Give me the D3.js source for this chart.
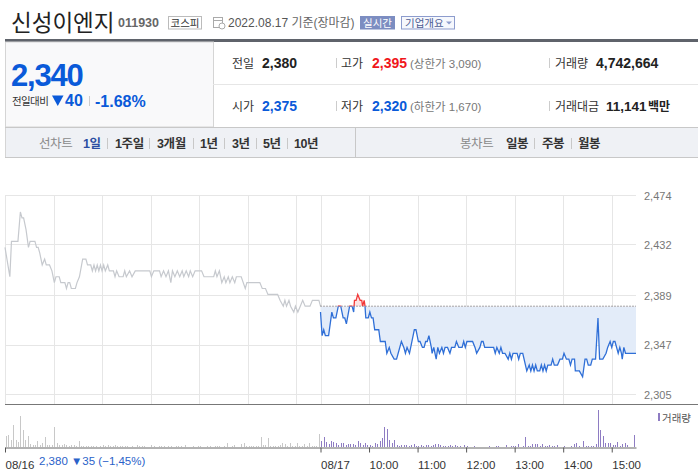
<!DOCTYPE html>
<html><head><meta charset="utf-8">
<script src="https://cdn.jsdelivr.net/npm/d3@7/dist/d3.min.js"></script>
<style>
html,body{margin:0;padding:0;background:#fff;}
svg{display:block;font-family:'Liberation Sans','Noto Sans CJK KR',sans-serif;}
</style></head><body>
<svg id="c" width="698" height="473"></svg>
<script>
// ---------------- DATA ----------------
const prevClose = 2380;
// 08/16 (minutes after 09:00, price)
const d16Time = [0,6,8,16,19,21,23,26,29,31,37,39,41,43,46,49,51,55,58,61,63,67,69,74,76,78,80,82,87,89,92,96,100,102,106,108,110,112,114,116,118,120,122,124,127,129,134,136,138,141,146,148,150,154,157,161,179,181,184,191,193,196,199,202,205,207,210,213,216,219,221,224,227,229,232,235,243,246,258,260,262,265,268,271,273,276,278,281,284,286,292,297,299,315,318,322,325,337,340,344,346,348,351,353,357,359,362,365,368,371,377,380,388,390];
const d16Price = [2430,2405,2435,2435,2460,2455,2455,2445,2430,2435,2435,2430,2430,2425,2415,2420,2415,2415,2410,2400,2405,2405,2400,2400,2395,2400,2400,2395,2395,2400,2405,2420,2420,2415,2415,2410,2415,2410,2415,2410,2415,2410,2415,2410,2415,2410,2410,2405,2410,2405,2405,2410,2405,2410,2405,2410,2410,2405,2410,2410,2405,2410,2405,2410,2400,2410,2405,2410,2405,2410,2405,2410,2405,2410,2405,2410,2410,2405,2405,2410,2405,2410,2400,2405,2400,2405,2400,2405,2400,2405,2405,2395,2400,2400,2395,2395,2390,2390,2385,2380,2385,2380,2385,2380,2375,2380,2375,2380,2385,2380,2380,2385,2385,2380];
// 08/17
const d17Time = [0,2,4,6,10,14,16,19,22,25,28,30,32,36,39,41,42,44,46,49,51,52,54,55,56,59,61,63,65,67,72,74,80,82,85,87,91,94,100,103,105,107,110,116,118,121,123,126,128,130,132,134,137,138,140,143,145,147,150,152,154,157,160,162,166,168,171,175,177,179,181,188,191,193,197,199,201,203,214,216,218,221,223,225,228,232,234,236,238,243,245,247,250,255,258,260,262,264,266,268,271,273,275,277,279,281,285,287,289,293,296,299,301,304,307,309,311,314,315,320,324,327,329,331,334,336,340,343,345,349,353,355,358,360,362,364,366,368,370,372,373,375,377,390];
const d17Price = [2375,2355,2360,2355,2355,2375,2370,2370,2380,2380,2370,2370,2365,2380,2380,2375,2385,2385,2390,2385,2385,2380,2385,2380,2370,2370,2375,2370,2370,2360,2360,2350,2350,2340,2345,2340,2335,2335,2350,2345,2340,2345,2340,2360,2360,2350,2350,2345,2345,2350,2350,2355,2345,2340,2345,2335,2345,2340,2345,2340,2345,2345,2340,2345,2345,2350,2345,2345,2350,2345,2350,2350,2345,2340,2345,2350,2350,2345,2345,2340,2345,2340,2345,2340,2340,2335,2340,2335,2340,2340,2335,2340,2340,2325,2330,2325,2330,2325,2330,2325,2325,2330,2325,2330,2325,2330,2330,2335,2330,2330,2335,2335,2340,2335,2335,2330,2335,2335,2325,2325,2320,2335,2335,2330,2330,2335,2335,2370,2335,2335,2340,2345,2350,2345,2350,2350,2345,2340,2345,2340,2335,2345,2340,2340];
// volume, thousand shares per 3-minute bucket
const vol16 = [45,50,27,90,30,20,125,69,28,44,12,8,10,24,8,16,40,10,10,8,80,16,8,10,12,8,6,8,8,6,24,
  6,4,6,4,6,4,4,0,4,8,4,8,4,6,10,4,4,4,6,4,0,4,0,8,4,4,4,0,0,8,4,0,4,4,
  6,0,4,4,0,4,4,4,0,10,0,0,4,0,4,4,0,0,4,4,0,4,4,4,0,6,16,0,4,8,0,0,12,16,4,6,6,6,6,6,40,8,8,36,6,6,6,6,8,16,12,6,16,6,6,16,6,6,12,6,16,6,6,6,52];
const vol17 = [24,40,20,14,24,20,16,8,16,16,8,12,14,14,8,24,16,8,18,10,8,6,16,12,24,36,80,72,28,16,
  28,8,6,10,8,10,6,8,12,5,6,8,5,10,10,5,8,12,12,8,4,6,6,8,6,10,6,5,0,8,6,0,0,4,0,
  0,0,0,0,4,0,0,3,3,0,0,9,0,4,4,5,12,0,4,40,6,4,12,12,12,4,12,6,6,8,5,5,8,0,0,5,0,0,5,12,16,6,0,24,6,5,5,6,12,148,68,44,16,16,16,8,8,20,6,12,16,8,0,0,48];
const yTicks = [2305, 2347, 2389, 2432, 2474];
const hourMinutes = [0, 60, 120, 180, 240, 300, 360];
const dayLabels = ["08/16", "08/17"];
const timeLabels = ["10:00", "11:00", "12:00", "13:00", "14:00", "15:00"];
const prevDayNote = "2,380 ▼35 (−1,45%)";

// ---------------- DRAW ----------------
const svg = d3.select("#c");
const DAY = 390;
const x = d3.scaleLinear().domain([0, DAY * 2]).range([5, 636]);
const y = d3.scaleLinear().domain([2305, 2474]).range([394.5, 195.5]);
const yv = d3.scaleLinear().domain([0, 150]).range([447, 410]);

// ---- header ----
svg.append("text").attr("x", 11).attr("y", 30.5).attr("font-size", 22.5).attr("fill", "#222")
  .attr("font-family", "'Noto Sans CJK KR',sans-serif").text("신성이엔지");
svg.append("text").attr("x", 118).attr("y", 27).attr("font-size", 12.5).attr("font-weight", "bold").attr("fill", "#666").text("011930");
svg.append("rect").attr("x", 168.5).attr("y", 16.5).attr("width", 33).attr("height", 12.5).attr("fill", "#fff").attr("stroke", "#bbb");
svg.append("text").attr("x", 185).attr("y", 26.5).attr("font-size", 10.5).attr("text-anchor", "middle").attr("fill", "#333").text("코스피");
// calendar icon
const ic = svg.append("g").attr("fill", "none").attr("stroke", "#aaa");
ic.append("rect").attr("x", 213.5).attr("y", 17.5).attr("width", 9).attr("height", 10);
ic.append("line").attr("x1", 213.5).attr("x2", 222.5).attr("y1", 20.5).attr("y2", 20.5);
ic.append("circle").attr("cx", 222).attr("cy", 26).attr("r", 3).attr("fill", "#fff");
svg.append("text").attr("x", 228).attr("y", 26.5).attr("font-size", 12).attr("fill", "#555").text("2022.08.17")
  .append("tspan").attr("fill", "#666").text(" 기준(장마감)");
svg.append("rect").attr("x", 360).attr("y", 16).attr("width", 35).attr("height", 13.5).attr("fill", "#7c8dc1");
svg.append("text").attr("x", 377.5).attr("y", 26.5).attr("font-size", 10.5).attr("text-anchor", "middle").attr("fill", "#fff").text("실시간");
svg.append("rect").attr("x", 401.5).attr("y", 16.5).attr("width", 53).attr("height", 12.5).attr("fill", "#f6f8fd").attr("stroke", "#8d9ccd");
svg.append("text").attr("x", 405).attr("y", 26.5).attr("font-size", 10.5).attr("fill", "#4b5c93").text("기업개요");
svg.append("path").attr("d", "M446,21.5h6l-3,3z").attr("fill", "#8d9ccd");

svg.append("rect").attr("x", 5).attr("y", 39).attr("width", 693).attr("height", 3).attr("fill", "#5f636b");

// ---- info panel ----
svg.append("rect").attr("x", 5.5).attr("y", 42).attr("width", 208).attr("height", 85).attr("fill", "#f9f9fa").attr("stroke", "#d5d5d5");
svg.append("line").attr("x1", 213).attr("x2", 698).attr("y1", 84.5).attr("y2", 84.5).attr("stroke", "#e6e6e6");
const blue = "#0a5ad9", red = "#f0161b";
svg.append("text").attr("x", 11).attr("y", 86).attr("font-size", 31).attr("font-weight", "bold").attr("letter-spacing", -1.2).attr("fill", blue).text("2,340");
svg.append("text").attr("x", 12).attr("y", 104.5).attr("font-size", 10.5).attr("letter-spacing", -0.6).attr("fill", "#333")
  .attr("font-family", "'Noto Sans CJK KR',sans-serif").text("전일대비");
svg.append("path").attr("d", "M52,95.5h11.5l-5.75,10.5z").attr("fill", blue);
svg.append("text").attr("x", 65).attr("y", 106).attr("font-size", 16).attr("font-weight", "bold").attr("fill", blue).text("40");
svg.append("line").attr("x1", 89.5).attr("x2", 89.5).attr("y1", 96).attr("y2", 106).attr("stroke", "#ccc");
svg.append("text").attr("x", 95).attr("y", 106.5).attr("font-size", 16).attr("font-weight", "bold").attr("fill", blue).text("-1.68%");

function infoItem(xl, yb, label, xv, val, color, extra, xe, sub) {
  svg.append("text").attr("x", xl).attr("y", yb).attr("font-size", 12).attr("fill", "#333")
    .attr("font-family", "'Noto Sans CJK KR',sans-serif").text(label);
  svg.append("text").attr("x", xv).attr("y", yb).attr("font-size", sub ? 13.5 : 14).attr("font-weight", "bold").attr("fill", color).text(val);
  if (extra) svg.append("text").attr("x", xe).attr("y", yb).attr("font-size", sub ? 12 : 11.5).attr("fill", sub ? "#222" : "#777")
    .attr("font-weight", sub ? "bold" : "normal").text(extra);
}
infoItem(232, 67.5, "전일", 262, "2,380", "#222");
infoItem(341, 67.5, "고가", 372, "2,395", red, "(상한가 3,090)", 410);
infoItem(555, 67.5, "거래량", 596, "4,742,664", "#222");
infoItem(232, 110.5, "시가", 262, "2,375", blue);
infoItem(341, 110.5, "저가", 372, "2,320", blue, "(하한가 1,670)", 410);
infoItem(555, 110.5, "거래대금", 606, "11,141", "#222", "백만", 648, true);
[336, 549].forEach(xx => [58, 101].forEach(yy =>
  svg.append("line").attr("x1", xx + 0.5).attr("x2", xx + 0.5).attr("y1", yy).attr("y2", yy + 10).attr("stroke", "#ccc")));

// ---- tab bar ----
svg.append("rect").attr("x", 5).attr("y", 127).attr("width", 693).attr("height", 31).attr("fill", "#eff1f5");
svg.append("line").attr("x1", 5).attr("x2", 698).attr("y1", 127.5).attr("y2", 127.5).attr("stroke", "#c8c8c8");
svg.append("line").attr("x1", 5).attr("x2", 698).attr("y1", 157.5).attr("y2", 157.5).attr("stroke", "#c8c8c8");
svg.append("line").attr("x1", 355.5).attr("x2", 355.5).attr("y1", 128).attr("y2", 157).attr("stroke", "#c8c8c8");
svg.append("line").attr("x1", 5.5).attr("x2", 5.5).attr("y1", 128).attr("y2", 157).attr("stroke", "#d5d5d5");
const tabs = [["선차트",39,"#8a8a8a",false],["1일",83,"#2b4ea2",true],["1주일",115,"#333",true],["3개월",157,"#333",true],
  ["1년",200,"#333",true],["3년",232,"#333",true],["5년",263,"#333",true],["10년",294,"#333",true],
  ["봉차트",460,"#8a8a8a",false],["일봉",506,"#333",true],["주봉",542,"#333",true],["월봉",578,"#333",true]];
tabs.forEach(t => svg.append("text").attr("x", t[1]).attr("y", 148).attr("font-size", 12.5).attr("letter-spacing", -0.4)
  .attr("font-weight", t[3] ? "bold" : "normal").attr("fill", t[2]).text(t[0]));
[107, 149, 193, 224, 256, 287, 534, 571].forEach(xx =>
  svg.append("line").attr("x1", xx + 0.5).attr("x2", xx + 0.5).attr("y1", 138).attr("y2", 149).attr("stroke", "#c8c8c8"));

// ---- grid ----
const grid = svg.append("g").attr("shape-rendering", "crispEdges");
grid.selectAll(".h").data(yTicks).join("line")
  .attr("x1", x(0)).attr("x2", x(DAY * 2)).attr("y1", d => y(d)).attr("y2", d => y(d)).attr("stroke", "#e6e6e6");
const vHours = hourMinutes.concat(hourMinutes.map(m => m + DAY));
grid.selectAll(".v").data(vHours).join("line")
  .attr("x1", d => Math.round(x(d)) + 0.5).attr("x2", d => Math.round(x(d)) + 0.5)
  .attr("y1", y(2474)).attr("y2", 404).attr("stroke", "#e6e6e6");
svg.append("line").attr("x1", 5).attr("x2", 698).attr("y1", 404.5).attr("y2", 404.5).attr("stroke", "#777");

// y labels
const yAxis = svg.append("g").attr("transform", `translate(${x(DAY * 2)},0)`)
  .call(d3.axisRight(y).tickValues(yTicks).tickSize(0).tickPadding(8).tickFormat(d3.format(",")));
yAxis.select(".domain").remove();
yAxis.selectAll("text").attr("font-size", 11).attr("fill", "#777").attr("font-family", "'Liberation Sans',sans-serif");

// ---- price lines ----
const p16 = d16Time.map((t, i) => ({t: t, p: d16Price[i]}));
const p17 = d17Time.map((t, i) => ({t: t + DAY, p: d17Price[i]}));
const defs = svg.append("defs");
defs.append("clipPath").attr("id", "below").append("rect").attr("x", 0).attr("width", 698)
  .attr("y", y(prevClose)).attr("height", 404 - y(prevClose));
defs.append("clipPath").attr("id", "above").append("rect").attr("x", 0).attr("width", 698)
  .attr("y", 180).attr("height", y(prevClose) - 180);

svg.append("path").datum(p16).attr("fill", "none").attr("stroke", "#c6c9ce").attr("stroke-width", 1.2)
  .attr("d", d3.line().x(d => x(d.t)).y(d => y(d.p)));

const area = d3.area().x(d => x(d.t)).y0(y(prevClose)).y1(d => y(d.p));
svg.append("path").datum(p17).attr("fill", "#e3ecf9").attr("clip-path", "url(#below)").attr("d", area);
svg.append("path").datum(p17).attr("fill", "#fde3e3").attr("clip-path", "url(#above)").attr("d", area);
svg.append("line").attr("x1", x(DAY)).attr("x2", x(DAY * 2)).attr("y1", y(prevClose)).attr("y2", y(prevClose))
  .attr("stroke", "#555").attr("stroke-dasharray", "1,2");
const line = d3.line().x(d => x(d.t)).y(d => y(d.p));
svg.append("path").datum(p17).attr("fill", "none").attr("stroke", "#2f6fd7").attr("stroke-width", 1.3).attr("clip-path", "url(#below)").attr("d", line);
svg.append("path").datum(p17).attr("fill", "none").attr("stroke", "#f23a3a").attr("stroke-width", 1.3).attr("clip-path", "url(#above)").attr("d", line);

// ---- volume ----
const vg = svg.append("g").attr("shape-rendering", "crispEdges");
const vData = vol16.map((v, i) => ({t: i * 3 + 1, v: v, c: "#c8c8c8"}))
  .concat(vol17.map((v, i) => ({t: DAY + i * 3 + 1, v: v, c: "#8e7cc3"})));
vg.selectAll("rect").data(vData.filter(d => d.v > 0)).join("rect")
  .attr("x", d => Math.round(x(d.t))).attr("width", 1)
  .attr("y", d => yv(d.v)).attr("height", d => yv(0) - yv(d.v)).attr("fill", d => d.c);

// legend
svg.append("rect").attr("x", 658).attr("y", 413).attr("width", 2).attr("height", 8).attr("fill", "#8e7cc3");
svg.append("text").attr("x", 662).attr("y", 422).attr("font-size", 10.5).attr("fill", "#555")
  .attr("font-family", "'Noto Sans CJK KR',sans-serif").text("거래량");

// time axis
const tickVals = [0, DAY].concat(hourMinutes.slice(1).map(m => m + DAY));
const tickText = dayLabels.concat(timeLabels);
const xa = svg.append("g").attr("transform", "translate(0,447.5)")
  .call(d3.axisBottom(x).tickValues(tickVals).tickSize(5).tickSizeOuter(0).tickPadding(8)
    .tickFormat((d, i) => tickText[i]));
xa.select(".domain").attr("stroke", "#666");
xa.selectAll("line").attr("stroke", "#555");
xa.selectAll("text").attr("text-anchor", "start").attr("font-size", 11.5).attr("fill", "#333")
  .attr("font-family", "'Liberation Sans',sans-serif");
svg.append("text").attr("x", 39).attr("y", 464.5).attr("font-size", 11.5).attr("fill", "#2a62c9").text(prevDayNote);
</script>
</body></html>
